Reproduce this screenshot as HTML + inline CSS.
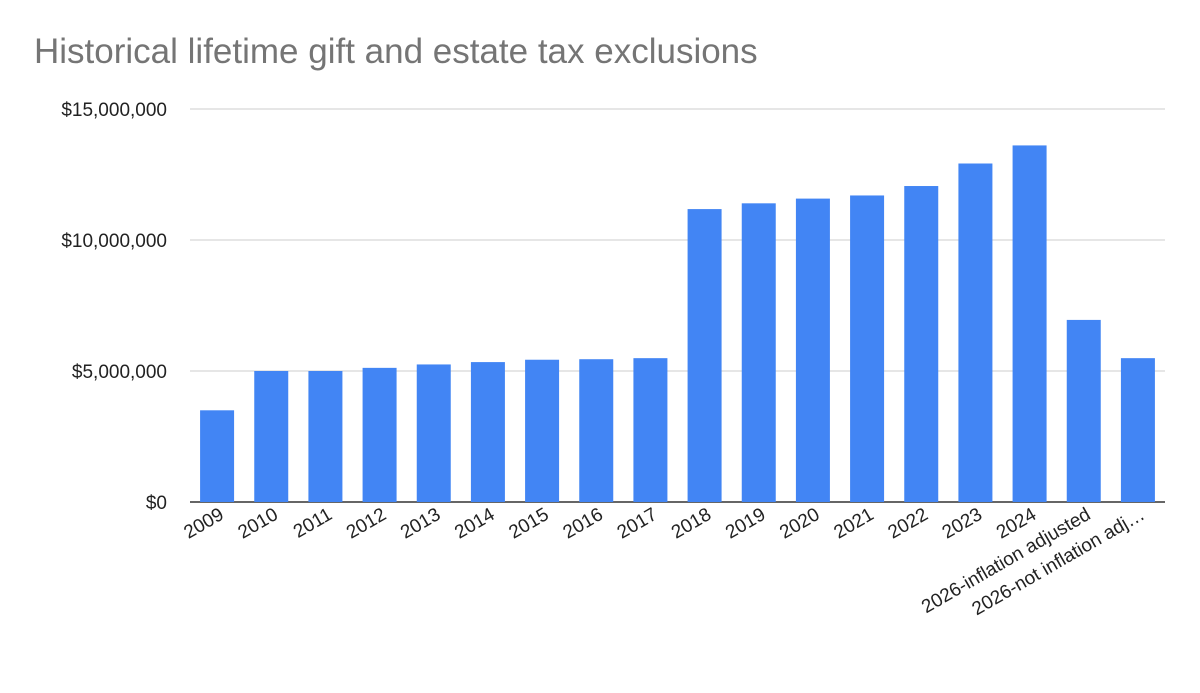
<!DOCTYPE html>
<html><head><meta charset="utf-8"><style>
body{margin:0;background:#fff;width:1200px;height:688px;overflow:hidden;font-family:"Liberation Sans",Arial,sans-serif}
</style></head><body>
<svg id="chart" width="1200" height="688" xmlns="http://www.w3.org/2000/svg">
<text x="34" y="63" font-size="35" fill="#757575" font-family="Liberation Sans, Arial, sans-serif">Historical lifetime gift and estate tax exclusions</text>
<g id="grid"></g><g id="bars"></g><g id="xlabels"></g>
</svg>
<script>
const categories=["2009","2010","2011","2012","2013","2014","2015","2016","2017","2018","2019","2020","2021","2022","2023","2024","2026-inflation adjusted","2026-not inflation adj…"];
const values=[3500000,5000000,5000000,5120000,5250000,5340000,5430000,5450000,5490000,11180000,11400000,11580000,11700000,12060000,12920000,13610000,6950000,5490000];
const yTicks=[0,5000000,10000000,15000000];
const yTickLabels=["$0","$5,000,000","$10,000,000","$15,000,000"];
const NS="http://www.w3.org/2000/svg";
const x0=190,x1=1165,y0=502,yTop=109,yMax=15000000;
const y=v=>y0-(v/yMax)*(y0-yTop);
const slot=(x1-x0)/categories.length;
const xc=i=>x0+slot*(i+0.5);
function mk(t,a,p){const e=document.createElementNS(NS,t);for(const k in a)e.setAttribute(k,a[k]);p.appendChild(e);return e;}
const grid=document.getElementById('grid');
yTicks.forEach((t,i)=>{
 const l=mk('line',{x1:x0,x2:x1,y1:y(t),y2:y(t),stroke:i==0?'#333':'#ccc','stroke-width':i==0?1.5:1},grid);
 
 
 const tx=mk('text',{x:167,y:y(t)+7,'text-anchor':'end','font-size':19,fill:'#222'},grid);
 tx.textContent=yTickLabels[i];
 
 
});
const bars=document.getElementById('bars'),xl=document.getElementById('xlabels');
const bw=34;
values.forEach((v,i)=>{
 const r=mk('rect',{x:xc(i)-bw/2,y:y(v),width:bw,height:y0-y(v),fill:'#4285f4'},bars);
 
 
 const cx=xc(i)+8,cy=518;
 const t=mk('text',{x:cx,y:cy,'text-anchor':'end','font-size':19,fill:'#222',transform:`rotate(-30 ${cx} ${cy})`},xl);
 t.textContent=categories[i];
 
 
});
</script>
</body></html>
